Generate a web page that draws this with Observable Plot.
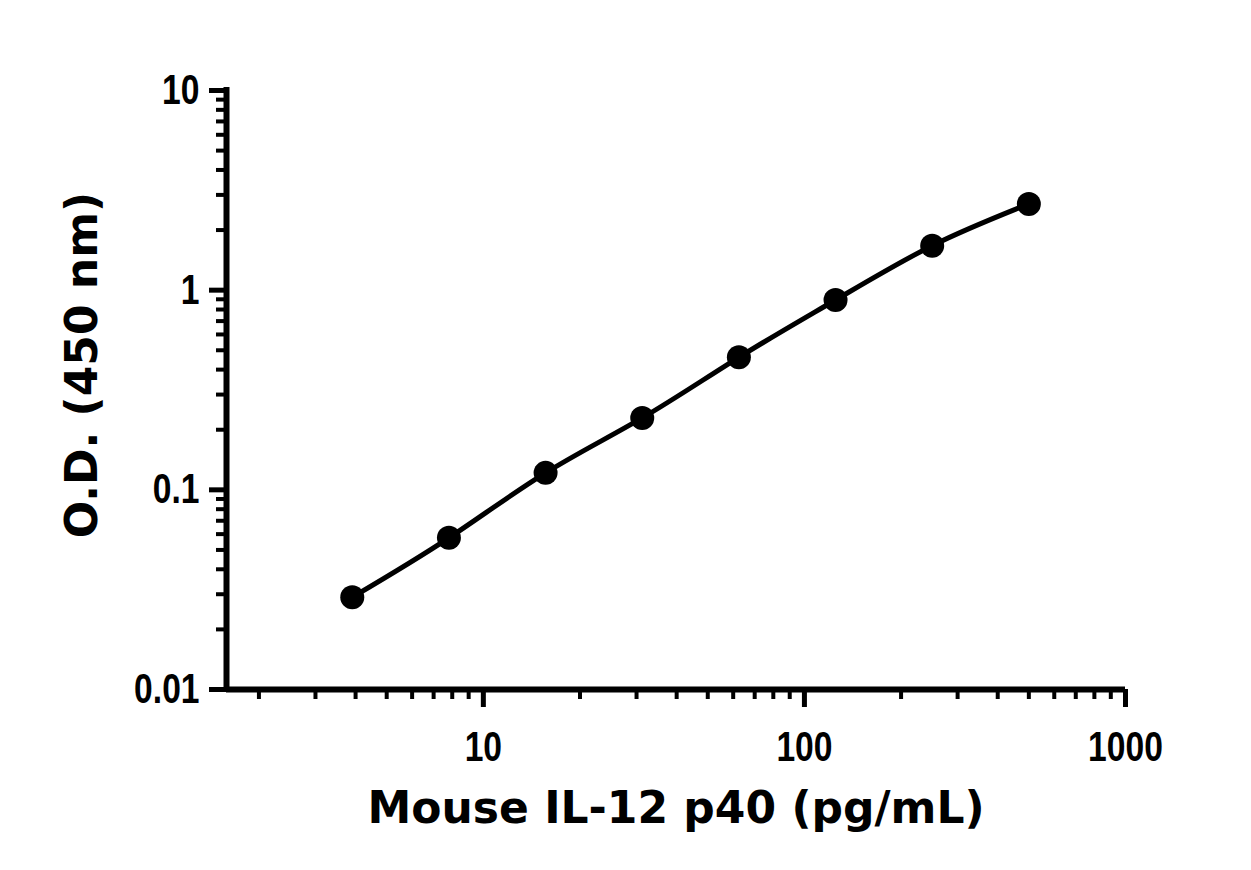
<!DOCTYPE html>
<html>
<head>
<meta charset="utf-8">
<script src="https://cdn.jsdelivr.net/npm/d3@7"></script>
<script src="https://cdn.jsdelivr.net/npm/@observablehq/plot@0.6"></script>
<style>
  html, body { margin: 0; padding: 0; background: #fff; }
  #chart svg { display: block; }
</style>
</head>
<body>
<div id="chart"></div>
<script>
const concentration = [3.90625, 7.8125, 15.625, 31.25, 62.5, 125, 250, 500];
const od = [0.0290, 0.0575, 0.1216, 0.2292, 0.461, 0.893, 1.670, 2.702];
const xMajorTicks = [10, 100, 1000];
const xMinorTicks = [2,3,4,5,6,7,8,9,20,30,40,50,60,70,80,90,200,300,400,500,600,700,800,900];
const yMajorTicks = [0.01, 0.1, 1, 10];
const yMinorTicks = [0.02,0.03,0.04,0.05,0.06,0.07,0.08,0.09,0.2,0.3,0.4,0.5,0.6,0.7,0.8,0.9,2,3,4,5,6,7,8,9];
const xLabel = "Mouse IL-12 p40 (pg/mL)";
const yLabel = "O.D. (450 nm)";
const xDomain = [1.585, 1000];
const yDomain = [0.01, 10];

const data = concentration.map((c, i) => ({c, od: od[i]}));
const tickFont = "'Liberation Sans', Arial, sans-serif";
const titleFont = "'DejaVu Sans', 'Century Gothic', sans-serif";

const chart = Plot.plot({
  width: 1251,
  height: 870,
  marginLeft: 226,
  marginRight: 126,
  marginTop: 90,
  marginBottom: 181,
  style: {background: "#fff", color: "#000"},
  x: {type: "log", domain: xDomain},
  y: {type: "log", domain: yDomain},
  marks: [
    Plot.axisX({ticks: xMinorTicks, tickSize: 10, strokeWidth: 4, tickFormat: () => "", label: null}),
    Plot.axisX({ticks: xMajorTicks, tickSize: 18, strokeWidth: 5, tickPadding: 24,
      tickFormat: d => String(d), fontSize: 42, fontWeight: "bold", fontFamily: tickFont, label: null}),
    Plot.axisY({ticks: yMinorTicks, tickSize: 10, strokeWidth: 4, tickFormat: () => "", label: null}),
    Plot.axisY({ticks: yMajorTicks, tickSize: 17, strokeWidth: 5, tickPadding: 10,
      tickFormat: d => String(d), fontSize: 42, fontWeight: "bold", fontFamily: tickFont, label: null}),
    Plot.ruleX([xDomain[0]], {y1: yDomain[0], y2: yDomain[1], strokeWidth: 6, strokeLinecap: "square"}),
    Plot.ruleY([yDomain[0]], {x1: xDomain[0], x2: xDomain[1], strokeWidth: 6, strokeLinecap: "butt"}),
    Plot.line(data, {x: "c", y: "od", curve: "natural", strokeWidth: 5, stroke: "#000"}),
    Plot.dot(data, {x: "c", y: "od", r: 12, fill: "#000", stroke: "none"}),
    Plot.text([xLabel], {frameAnchor: "bottom", dy: 133, text: d => d, fontSize: 44, fontWeight: "bold",
      fontFamily: titleFont, lineAnchor: "bottom", fill: "#000"}),
    Plot.text([yLabel], {frameAnchor: "left", textAnchor: "middle", dx: -144, dy: -25, rotate: -90, text: d => d, fontSize: 44, fontWeight: "bold",
      fontFamily: titleFont, fill: "#000"})
  ]
});
document.getElementById("chart").appendChild(chart);
// condense tick labels horizontally (narrow bold face look)
d3.select(chart).selectAll("g[aria-label$='tick label'] text").each(function() {
  const w = this.getComputedTextLength();
  if (w > 0) {
    this.setAttribute("textLength", (w * 0.80).toFixed(1));
    this.setAttribute("lengthAdjust", "spacingAndGlyphs");
  }
});
</script>
</body>
</html>
